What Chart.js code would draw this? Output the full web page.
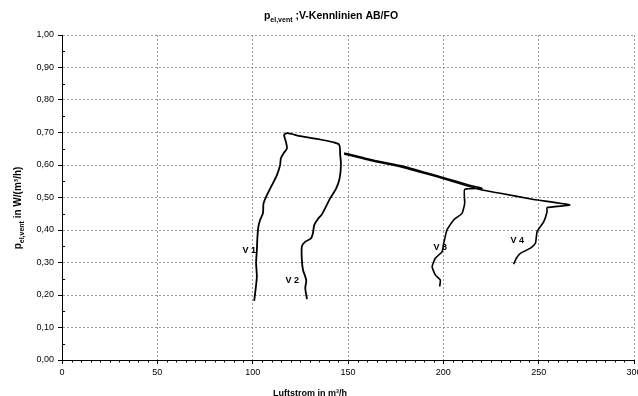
<!DOCTYPE html>
<html><head><meta charset="utf-8">
<script src="https://cdn.jsdelivr.net/npm/chart.js@4/dist/chart.umd.min.js"></script>
<style>
html,body{margin:0;padding:0;background:#fff;overflow:hidden;width:638px;height:396px}
#wrap{position:relative;width:680px;height:396px}
</style>
</head><body><div id="wrap"><canvas id="c"></canvas></div>
<script>
// ---- data ----
const xTicks = [0, 50, 100, 150, 200, 250, 300];
const yTicks = [0, 0.1, 0.2, 0.3, 0.4, 0.5, 0.6, 0.7, 0.8, 0.9, 1.0];

// V1 (bottom -> top) continuing into V2 (top -> bottom)
const v12X = [100.8, 101.3, 102.2, 101.8, 102.2, 102.5, 103.0, 103.9, 105.4, 105.7, 107.5, 110.1, 112.7, 114.4, 114.8, 116.2, 118.0, 117.4, 116.5, 118.0, 124.9, 145.0, 145.9, 146.3, 145.6, 143.8, 140.7, 136.3, 134.5, 132.3, 131.6, 130.6, 127.6, 125.8, 125.8, 126.4, 128.1, 127.6, 128.5];
const v12Y = [0.182, 0.206, 0.256, 0.298, 0.338, 0.379, 0.410, 0.431, 0.452, 0.482, 0.508, 0.538, 0.569, 0.600, 0.621, 0.636, 0.651, 0.672, 0.692, 0.698, 0.689, 0.665, 0.631, 0.600, 0.559, 0.528, 0.498, 0.448, 0.436, 0.415, 0.390, 0.374, 0.364, 0.349, 0.308, 0.277, 0.246, 0.221, 0.187];

// line to V3 and down V3
const v3X = [148.0, 161.7, 177.4, 190.6, 200.2, 212.4, 220.3, 211.2, 211.2, 209.8, 205.4, 201.9, 200.2, 199.3, 195.8, 194.1, 195.8, 198.4, 198.1];
const v3Y = [0.637, 0.617, 0.598, 0.577, 0.561, 0.540, 0.528, 0.525, 0.482, 0.451, 0.431, 0.400, 0.359, 0.333, 0.313, 0.287, 0.262, 0.246, 0.226];

// line to V4 and down V4
const v4X = [148.0, 161.7, 177.4, 190.6, 200.2, 212.4, 220.3, 229.9, 247.4, 266.3, 254.4, 254.4, 252.7, 249.2, 248.3, 245.7, 240.4, 238.3, 236.9];
const v4Y = [0.634, 0.614, 0.595, 0.574, 0.558, 0.536, 0.523, 0.513, 0.494, 0.477, 0.469, 0.456, 0.426, 0.395, 0.359, 0.344, 0.328, 0.313, 0.295];

const curveLabels = ['V 1', 'V 2', 'V 3', 'V 4'];
const curveLabelX = [98.2, 120.7, 198.4, 238.8];
const curveLabelY = [0.338, 0.246, 0.345, 0.369];

const titleMain = 'p';
const titleSub = 'el,vent';
const titleRest = ' ;V-Kennlinien AB/FO';
const yTitleMain = 'p';
const yTitleSub = 'el,vent';
const yTitleRest = ' in W/(m³/h)';
const xTitle = 'Luftstrom in m³/h';

// ---- build ----
const toPts = (xs, ys) => xs.map((x, i) => ({x: x, y: ys[i]}));
const FONT = '"Liberation Sans", Arial, sans-serif';

function drawSubText(ctx, main, sub, rest, size, subSize) {
  ctx.font = 'bold ' + size + 'px ' + FONT;
  const w1 = ctx.measureText(main).width;
  ctx.font = 'bold ' + subSize + 'px ' + FONT;
  const w2 = ctx.measureText(sub).width;
  ctx.font = 'bold ' + size + 'px ' + FONT;
  const w3 = ctx.measureText(rest).width;
  const total = w1 + w2 + w3;
  let x = -total / 2;
  ctx.textBaseline = 'alphabetic';
  ctx.textAlign = 'left';
  ctx.font = 'bold ' + size + 'px ' + FONT;
  ctx.fillText(main, x, 0); x += w1;
  ctx.font = 'bold ' + subSize + 'px ' + FONT;
  ctx.fillText(sub, x, 2.5); x += w2;
  ctx.font = 'bold ' + size + 'px ' + FONT;
  ctx.fillText(rest, x, 0);
}

const decor = {
  id: 'decor',
  afterDraw(chart) {
    const ctx = chart.ctx;
    const xs = chart.scales.x, ys = chart.scales.y;
    const area = chart.chartArea;
    ctx.save();
    ctx.fillStyle = '#000';
    ctx.strokeStyle = '#000';
    ctx.lineWidth = 1;
    ctx.beginPath();
    for (let v = 5; v < 300; v += 5) {
      if (v % 50 === 0) continue;
      const px = Math.round(xs.getPixelForValue(v)) + 0.5;
      ctx.moveTo(px, area.bottom); ctx.lineTo(px, area.bottom + 2.5);
    }
    for (let k = 0; k < 10; k++) {
      const v = k * 0.1 + 0.05;
      const py = Math.round(ys.getPixelForValue(v)) + 0.5;
      ctx.moveTo(area.left, py); ctx.lineTo(area.left + 3, py);
    }
    ctx.stroke();
    ctx.font = 'bold 9px ' + FONT;
    ctx.textAlign = 'center';
    ctx.textBaseline = 'middle';
    curveLabels.forEach((t, i) => {
      ctx.fillText(t, xs.getPixelForValue(curveLabelX[i]), ys.getPixelForValue(curveLabelY[i]));
    });
    ctx.save();
    ctx.translate(331, 19);
    drawSubText(ctx, titleMain, titleSub, titleRest, 10.5, 7);
    ctx.restore();
    ctx.save();
    ctx.translate(21, 208);
    ctx.rotate(-Math.PI / 2);
    drawSubText(ctx, yTitleMain, yTitleSub, yTitleRest, 10, 7);
    ctx.restore();
    ctx.font = 'bold 9px ' + FONT;
    ctx.textAlign = 'center';
    ctx.textBaseline = 'alphabetic';
    ctx.fillText(xTitle, 310, 396);
    ctx.restore();
  }
};

const lineDs = (label, xs, ys, w, t) => ({
  label: label,
  data: toPts(xs, ys),
  showLine: true,
  borderColor: '#000',
  backgroundColor: '#000',
  borderWidth: w,
  pointRadius: 0,
  tension: t,
  fill: false
});

new Chart(document.getElementById('c'), {
  type: 'scatter',
  data: {
    datasets: [
      lineDs('V1/V2', v12X, v12Y, 1.8, 0.25),
      lineDs('V3', v3X, v3Y, 1.6, 0.15),
      lineDs('V4', v4X, v4Y, 1.6, 0.15)
    ]
  },
  options: {
    responsive: true,
    maintainAspectRatio: false,
    devicePixelRatio: 1,
    animation: false,
    layout: {padding: {left: 0, right: 46, top: 35, bottom: 0}},
    plugins: {legend: {display: false}, title: {display: false}, tooltip: {enabled: false}},
    scales: {
      x: {
        type: 'linear', min: 0, max: 300,
        afterBuildTicks: s => { s.ticks = xTicks.map(v => ({value: v})); },
        afterFit: s => { s.height = 36; },
        ticks: {color: '#000', font: {family: FONT, size: 9}, padding: 3, maxRotation: 0, autoSkip: false},
        grid: {color: '#9a9a9a', lineWidth: 1, tickLength: 4, tickColor: '#000'},
        border: {color: '#000', width: 1, dash: [2, 2]}
      },
      y: {
        type: 'linear', min: 0, max: 1,
        afterBuildTicks: s => { s.ticks = yTicks.map(v => ({value: v})); },
        afterFit: s => { s.width = 62; },
        ticks: {color: '#000', font: {family: FONT, size: 9}, padding: 4,
          callback: v => v.toFixed(2).replace('.', ',')},
        grid: {color: '#9a9a9a', lineWidth: 1, tickLength: 4, tickColor: '#000'},
        border: {color: '#000', width: 1, dash: [2, 2]}
      }
    }
  },
  plugins: [decor]
});
</script>
</body></html>
